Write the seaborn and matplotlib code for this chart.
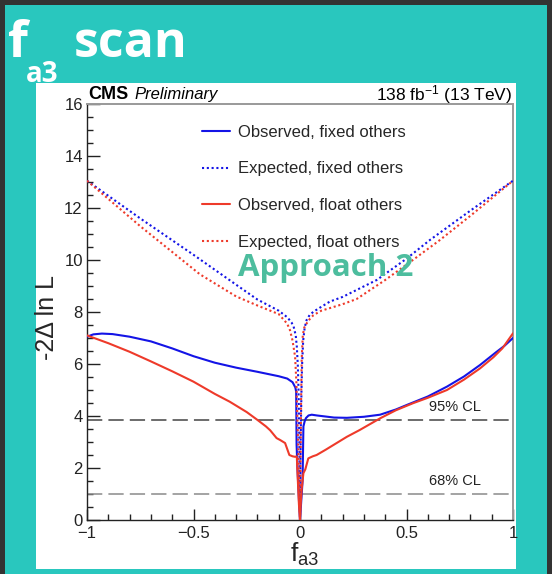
import matplotlib
matplotlib.use("Agg")
import matplotlib.pyplot as plt
from matplotlib.patches import Rectangle
from matplotlib.ticker import MultipleLocator, FixedLocator, FixedFormatter
import seaborn as sns
import pandas as pd

# ---- likelihood scan values (f_a3, -2 Delta ln L) ----
obs_fixed_x = [-1.0, -0.97, -0.93, -0.88, -0.8, -0.7, -0.6, -0.5, -0.4, -0.3, -0.2, -0.1,
               -0.06, -0.035, -0.022, -0.018, -0.016, -0.012, -0.008, -0.004, 0.0, 0.004,
               0.008, 0.012, 0.016, 0.022, 0.028, 0.04, 0.055, 0.08, 0.12, 0.16, 0.22, 0.3,
               0.376, 0.45, 0.5, 0.6, 0.69, 0.77, 0.845, 0.92, 0.96, 1.0]
obs_fixed_y = [7.05, 7.14, 7.17, 7.15, 7.05, 6.87, 6.6, 6.3, 6.05, 5.86, 5.7, 5.53,
               5.44, 5.3, 5.1, 4.94, 2.9, 2.0, 1.3, 0.6, 0.0, 0.5,
               1.0, 1.5, 3.6, 3.8, 3.92, 4.02, 4.05, 4.02, 3.98, 3.94, 3.93, 3.97,
               4.05, 4.25, 4.42, 4.75, 5.13, 5.52, 5.96, 6.45, 6.7, 7.0]

exp_fixed_x = [-1.0, -0.75, -0.5, -0.3, -0.2, -0.1, -0.06, -0.04, -0.03, -0.02, -0.015,
               -0.01, -0.007, -0.004, -0.002, 0.0, 0.002, 0.004, 0.007, 0.01, 0.015, 0.022,
               0.031, 0.045, 0.063, 0.1, 0.14, 0.2, 0.36, 0.5, 0.61, 0.8, 1.0]
exp_fixed_y = [13.05, 11.6, 10.2, 9.05, 8.48, 8.05, 7.8, 7.6, 7.44, 7.1, 6.67,
               5.9, 5.0, 3.6, 2.2, 0.0, 2.2, 3.6, 5.0, 6.0, 6.9, 7.4,
               7.69, 7.88, 8.01, 8.2, 8.4, 8.58, 9.23, 10.05, 10.77, 11.9, 13.05]

obs_float_x = [-1.0, -0.9, -0.8, -0.7, -0.6, -0.5, -0.4, -0.33, -0.25, -0.2, -0.16, -0.14,
               -0.125, -0.11, -0.094, -0.07, -0.05, -0.035, -0.023, -0.015, -0.01, -0.005,
               0.0, 0.004, 0.008, 0.016, 0.025, 0.039, 0.06, 0.078, 0.12, 0.15, 0.22, 0.28,
               0.376, 0.45, 0.53, 0.6, 0.69, 0.77, 0.845, 0.908, 0.95, 1.0]
obs_float_y = [7.1, 6.8, 6.47, 6.1, 5.72, 5.32, 4.85, 4.55, 4.15, 3.85, 3.6, 3.45,
               3.3, 3.15, 3.08, 2.96, 2.5, 2.45, 2.43, 2.45, 1.5, 0.6,
               0.0, 0.7, 1.2, 1.8, 1.95, 2.37, 2.45, 2.5, 2.7, 2.85, 3.2, 3.46,
               3.91, 4.22, 4.49, 4.7, 5.0, 5.4, 5.83, 6.26, 6.6, 7.18]

exp_float_x = [-1.0, -0.75, -0.47, -0.3, -0.2, -0.1, -0.06, -0.047, -0.035, -0.023, -0.017,
               -0.013, -0.009, -0.006, -0.003, -0.001, 0.0, 0.001, 0.003, 0.005, 0.008,
               0.013, 0.02, 0.031, 0.045, 0.063, 0.1, 0.2, 0.266, 0.33, 0.4, 0.53, 0.657,
               0.8, 1.0]
exp_float_y = [13.05, 11.3, 9.45, 8.6, 8.25, 7.92, 7.55, 7.3, 6.9, 6.28, 5.3,
               4.1, 3.0, 2.0, 1.0, 0.3, 0.0, 0.5, 2.5, 4.5, 6.2,
               7.1, 7.4, 7.56, 7.72, 7.88, 8.05, 8.3, 8.5, 8.85, 9.23, 10.0, 10.77,
               11.7, 13.05]

series_labels = ["Observed, fixed others", "Expected, fixed others",
                 "Observed, float others", "Expected, float others"]
cl_levels = [3.84, 1.0]
cl_labels = ["95% CL", "68% CL"]
xtick_values = [-1, -0.5, 0, 0.5, 1]
xtick_labels = ["\u22121", "\u22120.5", "0", "0.5", "1"]
ytick_values = [0, 2, 4, 6, 8, 10, 12, 14, 16]
ytick_labels = ["0", "2", "4", "6", "8", "10", "12", "14", "16"]

# ---- style ----
TEAL = "#29c7be"
DARK = "#333333"
BLUE = "#1414e6"
RED = "#ee3a2a"
GREEN = "#4dbd9e"
DOTTED = (0, (1, 1.3))

sns.set_theme(style="white")
plt.rcParams["font.family"] = ["Liberation Sans", "DejaVu Sans"]
plt.rcParams["mathtext.fontset"] = "custom"
plt.rcParams["mathtext.rm"] = "Liberation Sans"
plt.rcParams["mathtext.it"] = "Liberation Sans:italic"
plt.rcParams["mathtext.bf"] = "Liberation Sans:bold"

W, H = 552, 574
fig = plt.figure(figsize=(W / 100, H / 100), dpi=100, facecolor=TEAL)


def fx(px):
    return px / W


def fy(py):
    return 1 - py / H


# slide frame and white plot panel
fig.add_artist(Rectangle((0, fy(5)), 1, 5 / H, transform=fig.transFigure,
                         facecolor=DARK, edgecolor="none", zorder=0))
fig.add_artist(Rectangle((0, 0), fx(5), 1, transform=fig.transFigure,
                         facecolor=DARK, edgecolor="none", zorder=0))
fig.add_artist(Rectangle((fx(547), 0), fx(5), 1, transform=fig.transFigure,
                         facecolor=DARK, edgecolor="none", zorder=0))
fig.add_artist(Rectangle((fx(36), fy(569)), 480 / W, 486 / H, transform=fig.transFigure,
                         facecolor="white", edgecolor="none", zorder=0))

# slide title
fig.text(fx(8), fy(57), "f", family="Open Sans", weight="bold", fontsize=37,
         color="white", va="baseline")
fig.text(fx(26), fy(82), "a3", family="Open Sans", weight="bold", fontsize=20,
         color="white", va="baseline")
fig.text(fx(74), fy(57), "scan", family="Open Sans", weight="bold", fontsize=36,
         color="white", va="baseline")

ax = fig.add_axes([fx(87), fy(520), 426 / W, 416 / H])
ax.set_facecolor("white")

curves = [
    (obs_fixed_x, obs_fixed_y, BLUE, "-"),
    (exp_fixed_x, exp_fixed_y, BLUE, DOTTED),
    (obs_float_x, obs_float_y, RED, "-"),
    (exp_float_x, exp_float_y, RED, DOTTED),
]
for (xs, ys, col, ls), lab in zip(curves, series_labels):
    df = pd.DataFrame({"fa3": xs, "nll": ys})
    sns.lineplot(data=df, x="fa3", y="nll", color=col, linestyle=ls, lw=1.5,
                 label=lab, ax=ax, sort=False, estimator=None, zorder=3)

# confidence-level reference lines
for lvl, lab, col, ty in zip(cl_levels, cl_labels, ["#444444", "#8a8a8a"], [4.19, 1.33]):
    ax.axhline(lvl, color=col, lw=1.1, dashes=(10, 4), zorder=2)
    ax.text(0.605, ty, lab, fontsize=10.5, color="#222222", va="baseline", ha="left")

ax.text(-0.292, 9.38, "Approach 2", family="Open Sans", weight="bold", fontsize=22.5,
        color=GREEN, va="baseline", ha="left", zorder=4)

ax.set_xlim(-1, 1)
ax.set_ylim(0, 16)
ax.xaxis.set_major_locator(FixedLocator(xtick_values))
ax.xaxis.set_major_formatter(FixedFormatter(xtick_labels))
ax.xaxis.set_minor_locator(MultipleLocator(0.1))
ax.yaxis.set_major_locator(FixedLocator(ytick_values))
ax.yaxis.set_major_formatter(FixedFormatter(ytick_labels))
ax.yaxis.set_minor_locator(MultipleLocator(0.5))
ax.tick_params(axis="both", which="both", direction="in", colors="#222222",
               labelsize=12, bottom=True, left=True, top=False, right=False)
ax.tick_params(axis="x", which="major", length=8, width=1, pad=4.5)
ax.tick_params(axis="x", which="minor", length=4, width=1)
ax.tick_params(axis="y", which="major", length=9, width=1, pad=3)
ax.tick_params(axis="y", which="minor", length=4.5, width=1)

for side in ["left", "bottom"]:
    ax.spines[side].set_color("#222222")
    ax.spines[side].set_linewidth(1.0)
for side in ["top", "right"]:
    ax.spines[side].set_color("#999999")
    ax.spines[side].set_linewidth(1.4)

ax.set_ylabel("-2\u0394 ln L", fontsize=18, va="center")
ax.yaxis.set_label_coords(-0.094, 0.486)
ax.set_xlabel(r"$\mathregular{f_{a3}}$", fontsize=19, va="top")
ax.xaxis.set_label_coords(0.512, -0.05)

ax.legend(loc="upper left", bbox_to_anchor=(0.27, 0.95), frameon=False, fontsize=12,
          handlelength=1.7, handletextpad=0.45, labelspacing=1.3, borderaxespad=0,
          borderpad=0)

# experiment labels above the frame
fig.text(fx(88), fy(99), "CMS", weight="bold", fontsize=13, va="baseline", color="black")
fig.text(fx(134), fy(99), "Preliminary", style="italic", fontsize=12, va="baseline",
         color="black")
fig.text(fx(512), fy(100), r"138 fb$^{\mathregular{-1}}$ (13 TeV)", fontsize=12.5,
         ha="right", va="baseline", color="black")

fig.savefig("out.png", dpi=100, facecolor=TEAL)
